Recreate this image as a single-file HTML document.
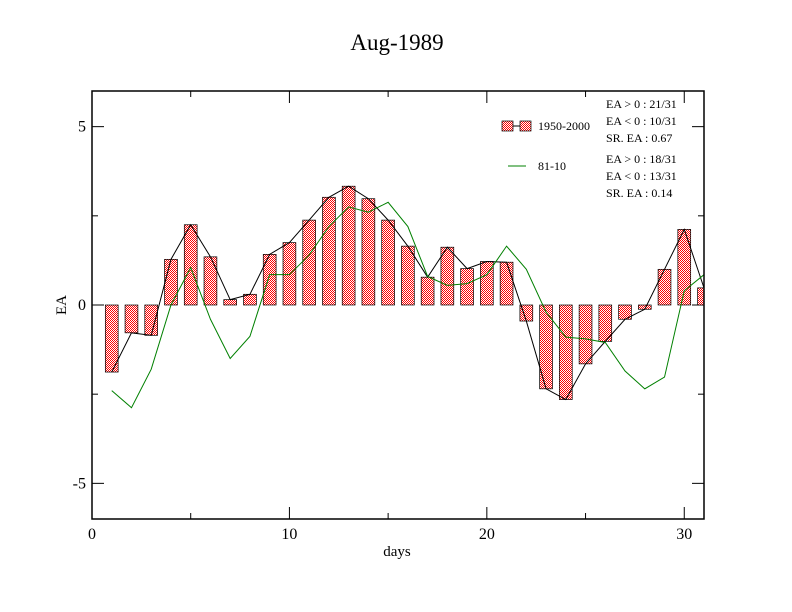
<!DOCTYPE html>
<html><head><meta charset="utf-8"><style>
html,body{margin:0;padding:0;background:#fff;}
svg{display:block;font-family:"Liberation Serif",serif;}
</style></head><body>
<svg id="chart" width="792" height="612" viewBox="0 0 792 612">
<defs>
<pattern id="chk" width="2" height="2" patternUnits="userSpaceOnUse">
<rect width="2" height="2" fill="#fff"/><rect width="1" height="1" fill="#f00"/><rect x="1" y="1" width="1" height="1" fill="#f00"/>
</pattern>
<clipPath id="pc"><rect x="92" y="91" width="612" height="428"/></clipPath>
</defs>
<rect width="792" height="612" fill="#fff"/>
<text x="397" y="50" font-size="23" text-anchor="middle">Aug-1989</text>
<g id="ticks"></g>
<g clip-path="url(#pc)">
<g id="bars"></g>
<polyline id="bline" fill="none" stroke="#000" stroke-width="1"/>
<polyline id="gline" fill="none" stroke="#008000" stroke-width="1"/>
</g>
<rect x="92" y="91" width="612" height="428" fill="none" stroke="#000" stroke-width="1.5"/>
<text x="397" y="556" font-size="15" text-anchor="middle">days</text>
<text x="66" y="305" font-size="15" text-anchor="middle" transform="rotate(-90 66 305)">EA</text>
<g font-size="12">
<line x1="508" y1="126" x2="530" y2="126" stroke="#000"/>
<rect x="502" y="121" width="11" height="10" fill="url(#chk)" stroke="#000" stroke-width="0.7"/>
<rect x="520" y="121" width="11" height="10" fill="url(#chk)" stroke="#000" stroke-width="0.7"/>
<text x="538" y="130">1950-2000</text>
<line x1="508" y1="166" x2="526" y2="166" stroke="#008000"/>
<text x="538" y="170">81-10</text>
<text x="606" y="108">EA &gt; 0 : 21/31</text>
<text x="606" y="125">EA &lt; 0 : 10/31</text>
<text x="606" y="142">SR. EA :  0.67</text>
<text x="606" y="163">EA &gt; 0 : 18/31</text>
<text x="606" y="180">EA &lt; 0 : 13/31</text>
<text x="606" y="197">SR. EA :  0.14</text>
</g>
</svg>
<script>
const days=[1,2,3,4,5,6,7,8,9,10,11,12,13,14,15,16,17,18,19,20,21,22,23,24,25,26,27,28,29,30,31];
const ea=[-1.88,-0.78,-0.85,1.28,2.25,1.35,0.15,0.3,1.42,1.75,2.38,3.02,3.33,2.98,2.38,1.65,0.78,1.62,1.02,1.22,1.2,-0.45,-2.35,-2.65,-1.65,-1.02,-0.4,-0.12,1.0,2.12,0.48];
const clim=[-2.4,-2.88,-1.8,0.0,1.05,-0.4,-1.5,-0.88,0.85,0.85,1.4,2.2,2.75,2.6,2.88,2.2,0.8,0.55,0.6,0.85,1.65,1.0,-0.2,-0.9,-0.95,-1.05,-1.85,-2.35,-2.02,0.4,0.85];
const xTicks=[0,10,20,30];
const yTicks=[-5,0,5];
const X=d=>92+d*(612/31);
const Y=v=>305-v*35.67;
const NS="http://www.w3.org/2000/svg";
const svg=document.getElementById('chart');
const bars=document.getElementById('bars');
const tk=document.getElementById('ticks');
function mk(t,a,p){const e=document.createElementNS(NS,t);for(const k in a)e.setAttribute(k,a[k]);(p||svg).appendChild(e);return e;}
const bw=0.65*612/31;
days.forEach((d,i)=>{const v=ea[i];const y0=Y(0),y1=Y(v);
const r=mk('rect',{x:X(d)-bw/2,y:Math.min(y0,y1),width:bw,height:Math.abs(y1-y0),fill:'url(#chk)',stroke:'#000','stroke-width':0.7},bars);

});
document.getElementById('bline').setAttribute('points',days.map((d,i)=>X(d)+','+Y(ea[i])).join(' '));
document.getElementById('gline').setAttribute('points',days.map((d,i)=>X(d)+','+Y(clim[i])).join(' '));
for(let v=0;v<=31;v+=5){const maj=v%10===0;const L=maj?12:6;
mk('line',{x1:X(v),x2:X(v),y1:519,y2:519-L,stroke:'#000'},tk);
mk('line',{x1:X(v),x2:X(v),y1:91,y2:91+L,stroke:'#000'},tk);}
xTicks.forEach(v=>{const t=mk('text',{x:X(v),y:539,'font-size':16,'text-anchor':'middle'});t.textContent=v;

});
for(let v=-5;v<=5;v+=2.5){const maj=v%5===0;const L=maj?12:6;
mk('line',{x1:92,x2:92+L,y1:Y(v),y2:Y(v),stroke:'#000'},tk);
mk('line',{x1:704,x2:704-L,y1:Y(v),y2:Y(v),stroke:'#000'},tk);}
yTicks.forEach(v=>{const t=mk('text',{x:86,y:Y(v)+5,'font-size':16,'text-anchor':'end'});t.textContent=v;

});
</script>
</body></html>
